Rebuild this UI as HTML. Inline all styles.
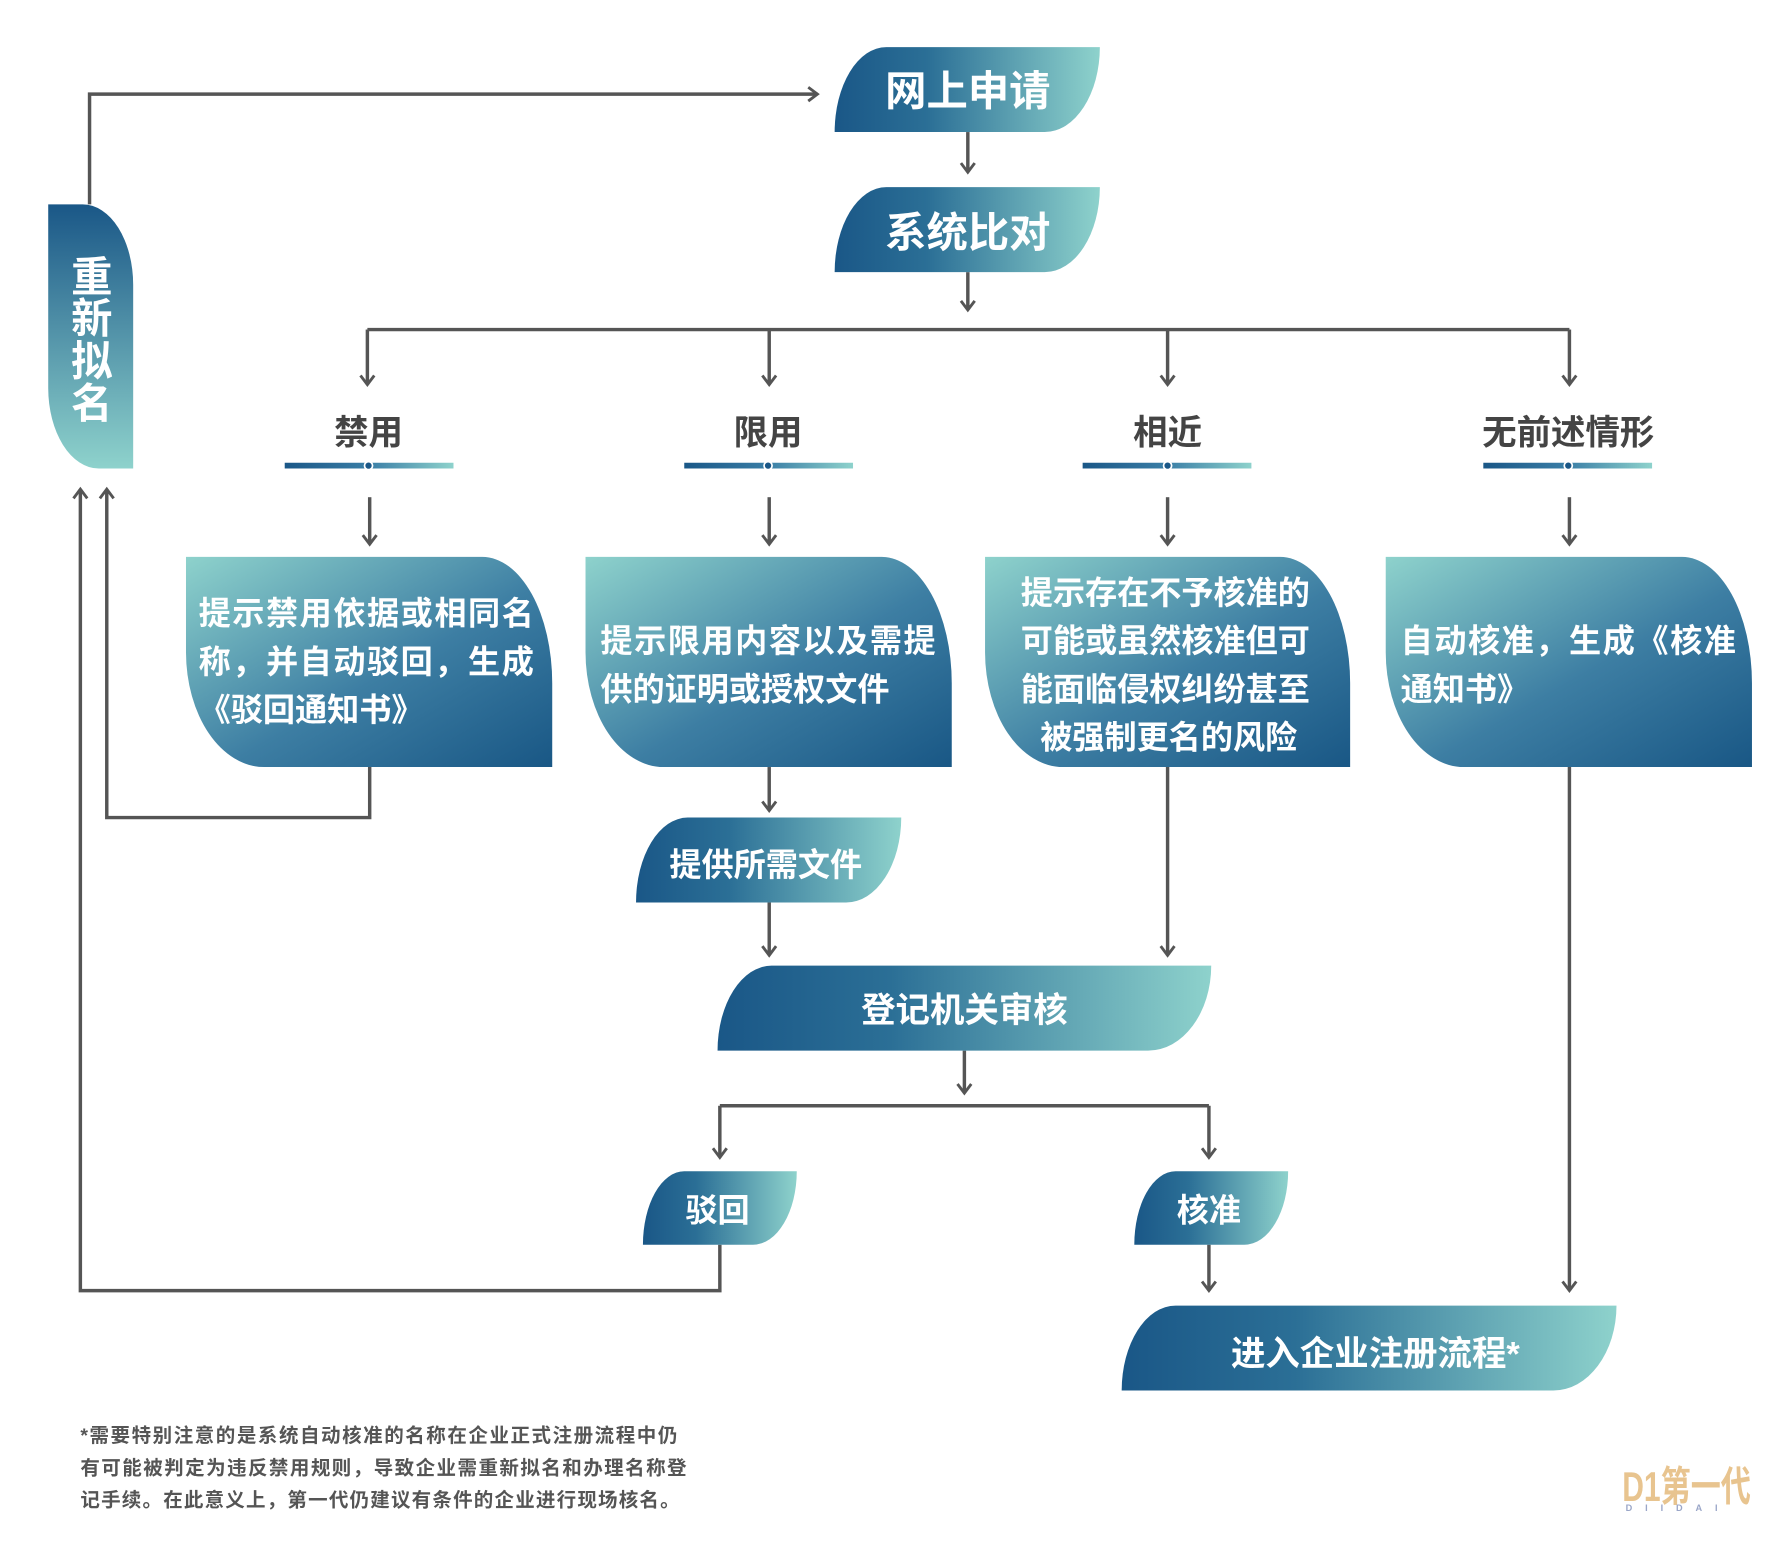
<!DOCTYPE html>
<html><head><meta charset="utf-8"><style>
html,body{margin:0;padding:0;background:#fff;}
svg{display:block;}
text{font-family:"Liberation Sans","Noto Sans CJK SC",sans-serif;font-weight:bold;}
</style></head><body>
<svg width="1791" height="1549" viewBox="0 0 1560 1349" preserveAspectRatio="none" xmlns="http://www.w3.org/2000/svg">
<defs>
<linearGradient id="gh" x1="0" y1="0" x2="1" y2="0"><stop offset="0" stop-color="#1a5787"/><stop offset="0.35" stop-color="#2b6f96"/><stop offset="1" stop-color="#8ed2cc"/></linearGradient>
<linearGradient id="gb" x1="0" y1="0" x2="1" y2="1"><stop offset="0" stop-color="#8ed2cc"/><stop offset="0.55" stop-color="#3d7ea3"/><stop offset="1" stop-color="#195785"/></linearGradient>
<linearGradient id="gv" x1="0" y1="0" x2="0" y2="1"><stop offset="0" stop-color="#1a5787"/><stop offset="1" stop-color="#8ed2cc"/></linearGradient>
<linearGradient id="gl" x1="0" y1="0" x2="1" y2="0"><stop offset="0" stop-color="#1a5787"/><stop offset="0.5" stop-color="#3a7ea6"/><stop offset="1" stop-color="#8ed2cc"/></linearGradient>
<marker id="a" markerWidth="16" markerHeight="16" refX="13" refY="8" orient="auto" markerUnits="userSpaceOnUse"><path d="M5,2 L13,8 L5,14" fill="none" stroke="#555" stroke-width="2.5"/></marker>
</defs>
<g fill="none" stroke="#555" stroke-width="3">
<path d="M78,178 V82 H712" marker-end="url(#a)"/>
<path d="M843,115 V150" marker-end="url(#a)"/>
<path d="M843,237 V270" marker-end="url(#a)"/>
<path d="M320,287 H1367"/>
<path d="M320,287 V335" marker-end="url(#a)"/>
<path d="M670,287 V335" marker-end="url(#a)"/>
<path d="M1017,287 V335" marker-end="url(#a)"/>
<path d="M1367,287 V335" marker-end="url(#a)"/>
<path d="M322,433 V474" marker-end="url(#a)"/>
<path d="M670,433 V474" marker-end="url(#a)"/>
<path d="M1017,433 V474" marker-end="url(#a)"/>
<path d="M1367,433 V474" marker-end="url(#a)"/>
<path d="M322,668 V712 H93 V426" marker-end="url(#a)"/>
<path d="M627,1084 V1124 H70 V426" marker-end="url(#a)"/>
<path d="M670,668 V706" marker-end="url(#a)"/>
<path d="M670,786 V832" marker-end="url(#a)"/>
<path d="M1017,668 V832" marker-end="url(#a)"/>
<path d="M1367,668 V1124" marker-end="url(#a)"/>
<path d="M840,915 V952" marker-end="url(#a)"/>
<path d="M627,963 H1053"/>
<path d="M627,963 V1008" marker-end="url(#a)"/>
<path d="M1053,963 V1008" marker-end="url(#a)"/>
<path d="M1053,1084 V1124" marker-end="url(#a)"/>
</g>
<path d="M772,41 H958 A48,74 0 0 1 910,115 H727 A45,74 0 0 1 772,41Z" fill="url(#gh)"/>
<text x="843" y="92" font-size="36" fill="#fff" text-anchor="middle">网上申请</text>
<path d="M772,163 H958 A48,74 0 0 1 910,237 H727 A45,74 0 0 1 772,163Z" fill="url(#gh)"/>
<text x="843" y="215" font-size="36" fill="#fff" text-anchor="middle">系统比对</text>
<path d="M599,712 H785 A48,74 0 0 1 737,786 H554 A45,74 0 0 1 599,712Z" fill="url(#gh)"/>
<text x="667" y="763" font-size="28" fill="#fff" text-anchor="middle">提供所需文件</text>
<path d="M672,841 H1055 A55,74 0 0 1 1000,915 H625 A47,74 0 0 1 672,841Z" fill="url(#gh)"/>
<text x="840" y="890" font-size="30" fill="#fff" text-anchor="middle">登记机关审核</text>
<path d="M1024,1137 H1408 A55,74 0 0 1 1353,1211 H977 A47,74 0 0 1 1024,1137Z" fill="url(#gh)"/>
<text x="1198" y="1189" font-size="30" fill="#fff" text-anchor="middle">进入企业注册流程*</text>
<path d="M596,1020 H694 A38,64 0 0 1 656,1084 H560 A36,64 0 0 1 596,1020Z" fill="url(#gh)"/>
<text x="625" y="1064" font-size="28" fill="#fff" text-anchor="middle">驳回</text>
<path d="M1024,1020 H1122 A38,64 0 0 1 1084,1084 H988 A36,64 0 0 1 1024,1020Z" fill="url(#gh)"/>
<text x="1053" y="1064" font-size="28" fill="#fff" text-anchor="middle">核准</text>
<path d="M42,178 H72 A44,70 0 0 1 116,248 V408 H86 A44,70 0 0 1 42,338Z" fill="url(#gv)"/>
<g font-size="36" fill="#fff" text-anchor="middle">
<text x="80" y="254">重</text><text x="80" y="290">新</text><text x="80" y="327">拟</text><text x="80" y="364">名</text>
</g>
<g font-size="30" fill="#444" text-anchor="middle">
<text x="321" y="387">禁用</text><text x="669" y="387">限用</text><text x="1017" y="387">相近</text><text x="1366" y="387">无前述情形</text>
</g>
<g>
<rect x="248" y="403" width="147" height="5" fill="url(#gl)"/><circle cx="321" cy="405.5" r="3.5" fill="#1a5787" stroke="#fff" stroke-width="1.5"/>
<rect x="596" y="403" width="147" height="5" fill="url(#gl)"/><circle cx="669" cy="405.5" r="3.5" fill="#1a5787" stroke="#fff" stroke-width="1.5"/>
<rect x="943" y="403" width="147" height="5" fill="url(#gl)"/><circle cx="1017" cy="405.5" r="3.5" fill="#1a5787" stroke="#fff" stroke-width="1.5"/>
<rect x="1292" y="403" width="147" height="5" fill="url(#gl)"/><circle cx="1366" cy="405.5" r="3.5" fill="#1a5787" stroke="#fff" stroke-width="1.5"/>
</g>
<path d="M162,485 H420 A61,110 0 0 1 481,595 V668 H230 A68,100 0 0 1 162,568Z" fill="url(#gb)"/>
<path d="M510,485 H768 A61,110 0 0 1 829,595 V668 H578 A68,100 0 0 1 510,568Z" fill="url(#gb)"/>
<path d="M858,485 H1115 A61,110 0 0 1 1176,595 V668 H926 A68,100 0 0 1 858,568Z" fill="url(#gb)"/>
<path d="M1207,485 H1465 A61,110 0 0 1 1526,595 V668 H1275 A68,100 0 0 1 1207,568Z" fill="url(#gb)"/>
<g font-size="28" fill="#fff">
<text x="173" y="544" textLength="292">提示禁用依据或相同名</text>
<text x="173" y="586" textLength="292">称，并自动驳回，生成</text>
<text x="173" y="628">《驳回通知书》</text>
<text x="523" y="568" textLength="292">提示限用内容以及需提</text>
<text x="523" y="610">供的证明或授权文件</text>
<text x="1015" y="526" text-anchor="middle">提示存在不予核准的</text>
<text x="1015" y="568" text-anchor="middle">可能或虽然核准但可</text>
<text x="1015" y="610" text-anchor="middle">能面临侵权纠纷甚至</text>
<text x="1018" y="652" text-anchor="middle">被强制更名的风险</text>
<text x="1220" y="568" textLength="292">自动核准，生成《核准</text>
<text x="1220" y="610">通知书》</text>
</g>
<g font-size="17" fill="#555">
<text x="70" y="1256" textLength="520">*需要特别注意的是系统自动核准的名称在企业正式注册流程中仍</text>
<text x="70" y="1284" textLength="528">有可能被判定为违反禁用规则，导致企业需重新拟名和办理名称登</text>
<text x="70" y="1312" textLength="522">记手续。在此意义上，第一代仍建议有条件的企业进行现场核名。</text>
</g>
<text x="1413" y="1307" font-size="36" fill="#e8c48f" textLength="112" lengthAdjust="spacingAndGlyphs">D1第一代</text>
<text x="1416" y="1316" font-size="8" fill="#9aa6c8" textLength="80">DIIDAI</text>
</svg>
</body></html>
